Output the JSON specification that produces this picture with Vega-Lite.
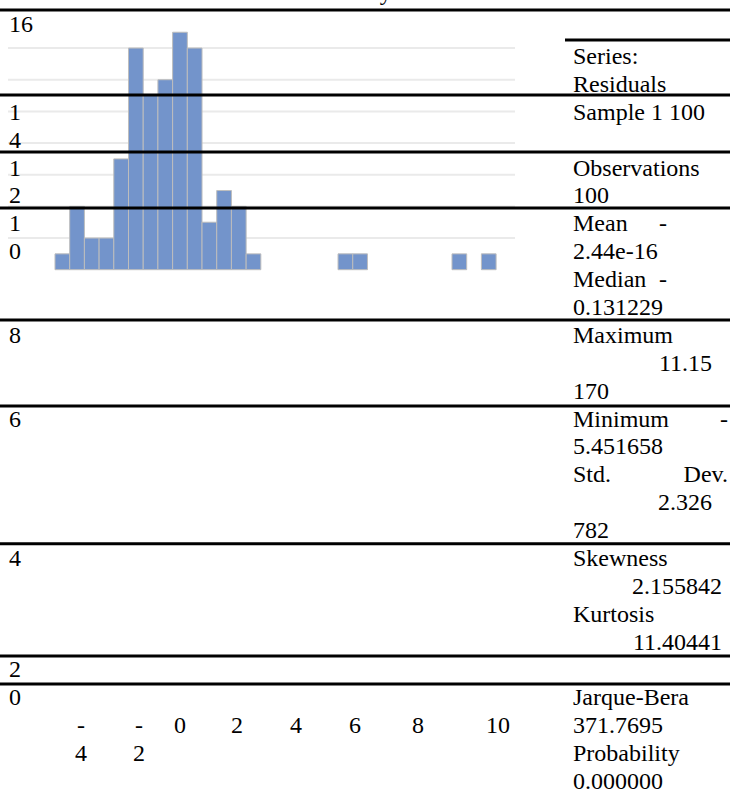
{
  "$schema": "https://vega.github.io/schema/vega-lite/v6.json",
  "width": 730,
  "height": 789,
  "autosize": {"type": "none"},
  "padding": 0,
  "background": "white",
  "config": {"view": {"stroke": null}, "text": {"font": "Liberation Serif, DejaVu Serif, serif"}},
  "datasets": {
    "bins": [
      {"bin_start": -5.5, "bin_end": -4.94, "count": 1},
      {"bin_start": -4.94, "bin_end": -4.38, "count": 4},
      {"bin_start": -4.38, "bin_end": -3.82, "count": 2},
      {"bin_start": -3.82, "bin_end": -3.26, "count": 2},
      {"bin_start": -3.26, "bin_end": -2.7, "count": 7},
      {"bin_start": -2.7, "bin_end": -2.14, "count": 14},
      {"bin_start": -2.14, "bin_end": -1.58, "count": 11},
      {"bin_start": -1.58, "bin_end": -1.02, "count": 12},
      {"bin_start": -1.02, "bin_end": -0.46, "count": 15},
      {"bin_start": -0.46, "bin_end": 0.1, "count": 14},
      {"bin_start": 0.1, "bin_end": 0.66, "count": 3},
      {"bin_start": 0.66, "bin_end": 1.22, "count": 5},
      {"bin_start": 1.22, "bin_end": 1.78, "count": 4},
      {"bin_start": 1.78, "bin_end": 2.34, "count": 1},
      {"bin_start": 5.28, "bin_end": 5.84, "count": 1},
      {"bin_start": 5.84, "bin_end": 6.4, "count": 1},
      {"bin_start": 9.62, "bin_end": 10.18, "count": 1},
      {"bin_start": 10.74, "bin_end": 11.3, "count": 1}
    ],
    "grid": [{"count": 2}, {"count": 4}, {"count": 6}, {"count": 8}, {"count": 10}, {"count": 12}, {"count": 14}],
    "borders": [{"line": -1.685}, {"line": 1.363}, {"line": 3.407}, {"line": 5.415}, {"line": 9.43}, {"line": 12.516}, {"line": 17.46}, {"line": 21.48}, {"line": 22.485}],
    "subborders": [{"line": -0.61, "col_from": 1, "col_to": 2}],
    "heading": [{"line": -2.05, "col": 0.5, "text": "Normality Test"}],
    "cells": [
      {"col": 0, "line": -1.15, "text": "16", "pos": "left"},
      {"col": 0, "line": 2, "text": "1", "pos": "left"},
      {"col": 0, "line": 3, "text": "4", "pos": "left"},
      {"col": 0, "line": 4, "text": "1", "pos": "left"},
      {"col": 0, "line": 5, "text": "2", "pos": "left"},
      {"col": 0, "line": 6, "text": "1", "pos": "left"},
      {"col": 0, "line": 7, "text": "0", "pos": "left"},
      {"col": 0, "line": 10, "text": "8", "pos": "left"},
      {"col": 0, "line": 13, "text": "6", "pos": "left"},
      {"col": 0, "line": 18, "text": "4", "pos": "left"},
      {"col": 0, "line": 22, "text": "2", "pos": "left"},
      {"col": 0, "line": 23, "text": "0", "pos": "left"},
      {"col": 1, "line": 0, "text": "Series:", "pos": "left"},
      {"col": 1, "line": 1, "text": "Residuals", "pos": "left"},
      {"col": 1, "line": 2, "text": "Sample 1 100", "pos": "left"},
      {"col": 1, "line": 4, "text": "Observations", "pos": "left"},
      {"col": 1, "line": 5, "text": "100", "pos": "left"},
      {"col": 1, "line": 6, "text": "Mean", "pos": "left"},
      {"col": 1, "line": 6, "text": "-", "pos": "mid"},
      {"col": 1, "line": 7, "text": "2.44e-16", "pos": "left"},
      {"col": 1, "line": 8, "text": "Median", "pos": "left"},
      {"col": 1, "line": 8, "text": "-", "pos": "mid"},
      {"col": 1, "line": 9, "text": "0.131229", "pos": "left"},
      {"col": 1, "line": 10, "text": "Maximum", "pos": "left"},
      {"col": 1, "line": 11, "text": "11.15", "pos": "wrap"},
      {"col": 1, "line": 12, "text": "170", "pos": "left"},
      {"col": 1, "line": 13, "text": "Minimum", "pos": "left"},
      {"col": 1, "line": 13, "text": "-", "pos": "right"},
      {"col": 1, "line": 14, "text": "5.451658", "pos": "left"},
      {"col": 1, "line": 15, "text": "Std.", "pos": "left"},
      {"col": 1, "line": 15, "text": "Dev.", "pos": "right"},
      {"col": 1, "line": 16, "text": "2.326", "pos": "wrap"},
      {"col": 1, "line": 17, "text": "782", "pos": "left"},
      {"col": 1, "line": 18, "text": "Skewness", "pos": "left"},
      {"col": 1, "line": 19, "text": "2.155842", "pos": "num"},
      {"col": 1, "line": 20, "text": "Kurtosis", "pos": "left"},
      {"col": 1, "line": 21, "text": "11.40441", "pos": "num"},
      {"col": 1, "line": 23, "text": "Jarque-Bera", "pos": "left"},
      {"col": 1, "line": 24, "text": "371.7695", "pos": "left"},
      {"col": 1, "line": 25, "text": "Probability", "pos": "left"},
      {"col": 1, "line": 26, "text": "0.000000", "pos": "left"}
    ],
    "ticks": [
      {"tick": -4, "line": 24, "text": "-"},
      {"tick": -4, "line": 25, "text": "4"},
      {"tick": -2, "line": 24, "text": "-"},
      {"tick": -2, "line": 25, "text": "2"},
      {"tick": 0, "line": 24, "text": "0"},
      {"tick": 2, "line": 24, "text": "2"},
      {"tick": 4, "line": 24, "text": "4"},
      {"tick": 6, "line": 24, "text": "6"},
      {"tick": 8, "line": 24, "text": "8"},
      {"tick": 10, "line": 24, "text": "10"}
    ]
  },
  "layer": [
    {
      "layer": [
        {
          "data": {"name": "grid"},
          "mark": {"type": "rule", "color": "#EAEAEA", "strokeWidth": 2},
          "encoding": {
            "y": {"field": "count", "type": "quantitative", "scale": {"domain": [0, 16], "range": [269.7, 16.4], "nice": false}, "axis": null},
            "x": {"datum": -7.29, "type": "quantitative", "scale": {"domain": [-7.29, 12.02], "range": [8, 515], "nice": false, "zero": false}, "axis": null},
            "x2": {"datum": 12.02}
          }
        },
        {
          "data": {"name": "bins"},
          "mark": {"type": "bar", "fill": "#7394CB", "stroke": "#BDBDBD", "strokeWidth": 1},
          "encoding": {
            "x": {"field": "bin_start", "type": "quantitative", "axis": null},
            "x2": {"field": "bin_end"},
            "y": {"field": "count", "type": "quantitative", "axis": null},
            "y2": {"datum": 0}
          }
        }
      ]
    },
    {
      "data": {"name": "borders"},
      "mark": {"type": "rule", "color": "#000000", "strokeWidth": 3},
      "encoding": {
        "y": {"field": "line", "type": "quantitative", "scale": {"domain": [0, 26], "range": [57, 782], "nice": false, "zero": false}, "axis": null}
      }
    },
    {
      "data": {"name": "subborders"},
      "mark": {"type": "rule", "color": "#000000", "strokeWidth": 3},
      "encoding": {
        "y": {"field": "line", "type": "quantitative", "scale": {"domain": [0, 26], "range": [57, 782], "nice": false, "zero": false}, "axis": null},
        "x": {"field": "col_from", "type": "quantitative", "scale": {"domain": [0, 1, 2], "range": [0, 565, 730], "nice": false, "zero": false}, "axis": null},
        "x2": {"field": "col_to"}
      }
    },
    {
      "data": {"name": "heading"},
      "mark": {"type": "text", "align": "center", "baseline": "alphabetic", "fontSize": 24, "color": "#000000"},
      "encoding": {
        "x": {"field": "col", "type": "quantitative", "scale": {"domain": [0, 1], "range": [0, 730], "nice": false, "zero": false}, "axis": null},
        "y": {"field": "line", "type": "quantitative", "scale": {"domain": [0, 26], "range": [57, 782], "nice": false, "zero": false}, "axis": null},
        "text": {"field": "text"}
      }
    },
    {
      "data": {"name": "cells"},
      "transform": [{"filter": "datum.pos === 'left'"}],
      "mark": {"type": "text", "align": "left", "baseline": "middle", "fontSize": 24, "color": "#000000"},
      "encoding": {
        "x": {"field": "col", "type": "quantitative", "scale": {"domain": [0, 1], "range": [9, 573], "nice": false, "zero": false}, "axis": null},
        "y": {"field": "line", "type": "quantitative", "scale": {"domain": [0, 26], "range": [57, 782], "nice": false, "zero": false}, "axis": null},
        "text": {"field": "text"}
      }
    },
    {
      "data": {"name": "cells"},
      "transform": [{"filter": "datum.pos === 'mid'"}],
      "mark": {"type": "text", "align": "center", "baseline": "middle", "fontSize": 24, "color": "#000000"},
      "encoding": {
        "x": {"field": "col", "type": "quantitative", "scale": {"domain": [0, 1], "range": [0, 663], "nice": false, "zero": false}, "axis": null},
        "y": {"field": "line", "type": "quantitative", "scale": {"domain": [0, 26], "range": [57, 782], "nice": false, "zero": false}, "axis": null},
        "text": {"field": "text"}
      }
    },
    {
      "data": {"name": "cells"},
      "transform": [{"filter": "datum.pos === 'right'"}],
      "mark": {"type": "text", "align": "right", "baseline": "middle", "fontSize": 24, "color": "#000000"},
      "encoding": {
        "x": {"field": "col", "type": "quantitative", "scale": {"domain": [0, 1], "range": [0, 728], "nice": false, "zero": false}, "axis": null},
        "y": {"field": "line", "type": "quantitative", "scale": {"domain": [0, 26], "range": [57, 782], "nice": false, "zero": false}, "axis": null},
        "text": {"field": "text"}
      }
    },
    {
      "data": {"name": "cells"},
      "transform": [{"filter": "datum.pos === 'num'"}],
      "mark": {"type": "text", "align": "right", "baseline": "middle", "fontSize": 24, "color": "#000000"},
      "encoding": {
        "x": {"field": "col", "type": "quantitative", "scale": {"domain": [0, 1], "range": [0, 722], "nice": false, "zero": false}, "axis": null},
        "y": {"field": "line", "type": "quantitative", "scale": {"domain": [0, 26], "range": [57, 782], "nice": false, "zero": false}, "axis": null},
        "text": {"field": "text"}
      }
    },
    {
      "data": {"name": "cells"},
      "transform": [{"filter": "datum.pos === 'wrap'"}],
      "mark": {"type": "text", "align": "right", "baseline": "middle", "fontSize": 24, "color": "#000000"},
      "encoding": {
        "x": {"field": "col", "type": "quantitative", "scale": {"domain": [0, 1], "range": [0, 712], "nice": false, "zero": false}, "axis": null},
        "y": {"field": "line", "type": "quantitative", "scale": {"domain": [0, 26], "range": [57, 782], "nice": false, "zero": false}, "axis": null},
        "text": {"field": "text"}
      }
    },
    {
      "data": {"name": "ticks"},
      "mark": {"type": "text", "align": "center", "baseline": "middle", "fontSize": 24, "color": "#000000"},
      "encoding": {
        "x": {"field": "tick", "type": "quantitative", "scale": {"domain": [-4, -2, 0, 2, 4, 6, 8, 10], "range": [81, 139, 180, 237, 296, 355, 418, 498], "nice": false, "zero": false}, "axis": null},
        "y": {"field": "line", "type": "quantitative", "scale": {"domain": [0, 26], "range": [57, 782], "nice": false, "zero": false}, "axis": null},
        "text": {"field": "text"}
      }
    }
  ],
  "resolve": {"scale": {"x": "independent", "y": "independent"}}
}
